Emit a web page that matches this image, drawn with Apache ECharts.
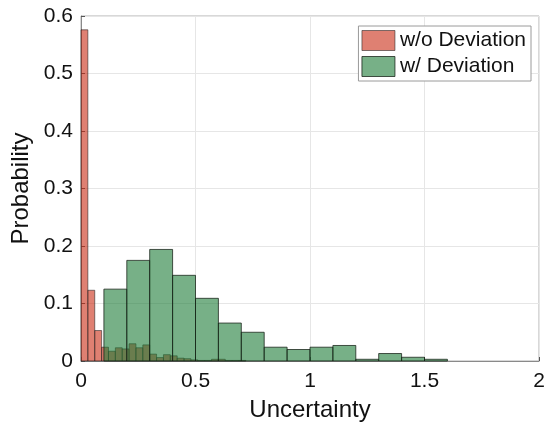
<!DOCTYPE html>
<html>
<head>
<meta charset="utf-8">
<script src="https://cdn.jsdelivr.net/npm/echarts@6/dist/echarts.min.js"></script>
<style>
  html, body { margin: 0; padding: 0; background: #fff; }
  #chart { width: 548px; height: 430px; }
</style>
</head>
<body>
<div id="chart"></div>
<script>
// Histogram of uncertainty, normalised to probability
const seriesNames = ['w/o Deviation', 'w/ Deviation'];

// w/o Deviation: bins of width 0.03 starting at 0
const noDevStart = 0;
const noDevWidth = 0.03;
const noDevProb = [0.576, 0.123, 0.053, 0.024, 0.017, 0.023, 0.021, 0.030,
                   0.023, 0.028, 0.012, 0.006, 0.011, 0.009, 0.005, 0.004,
                   0.002, 0.001, 0.001, 0.003, 0.003, 0.001, 0.001, 0.001];

// w/ Deviation: bins of width 0.1 starting at 0.1
const devStart = 0.1;
const devWidth = 0.1;
const devProb = [0.125, 0.175, 0.194, 0.149, 0.109, 0.066, 0.050, 0.024,
                 0.020, 0.024, 0.027, 0.003, 0.013, 0.0065, 0.003];

const xTicks = [0, 0.5, 1, 1.5, 2];
const yTicks = [0, 0.1, 0.2, 0.3, 0.4, 0.5, 0.6];

function toBins(start, width, probs) {
  return probs.map((p, i) => [start + i * width, start + (i + 1) * width, p]);
}

const colors = {
  red:   { fill: 'rgba(202,43,20,0.6)',  stroke: 'rgba(30,30,30,0.55)' },
  green: { fill: 'rgba(28,123,55,0.6)',  stroke: 'rgba(20,30,20,0.75)' }
};

function histItem(style) {
  return function (params, api) {
    const p0 = api.coord([api.value(0), api.value(2)]);
    const p1 = api.coord([api.value(1), 0]);
    return {
      type: 'rect',
      shape: { x: p0[0], y: p0[1], width: p1[0] - p0[0], height: p1[1] - p0[1] },
      style: { fill: style.fill, stroke: style.stroke, lineWidth: 1 }
    };
  };
}

const font = "'Liberation Sans', Arial, Helvetica, sans-serif";
const fmt = v => String(+v.toFixed(2));

const chart = echarts.init(document.getElementById('chart'), null, { renderer: 'canvas' });
chart.setOption({
  animation: false,
  backgroundColor: '#fff',
  grid: {
    left: 81, right: 9, top: 16, bottom: 69,
    outerBoundsMode: 'none',
    containLabel: false,
    show: true, borderColor: '#b0b0b0', borderWidth: 1, backgroundColor: 'transparent'
  },
  legend: {
    right: 17, top: 26,
    orient: 'vertical',
    backgroundColor: '#fff',
    borderColor: '#9a9a9a', borderWidth: 1,
    padding: [4, 5, 4, 3],
    itemWidth: 33, itemHeight: 20, itemGap: 5,
    textStyle: { fontFamily: font, fontSize: 21, color: '#111', padding: [0, 0, 0, 0] },
    data: [
      { name: seriesNames[0], icon: 'rect',
        itemStyle: { color: colors.red.fill, borderColor: colors.red.stroke, borderWidth: 1 } },
      { name: seriesNames[1], icon: 'rect',
        itemStyle: { color: colors.green.fill, borderColor: colors.green.stroke, borderWidth: 1 } }
    ]
  },
  xAxis: {
    type: 'value',
    min: xTicks[0], max: xTicks[xTicks.length - 1], interval: 0.5,
    name: 'Uncertainty', nameLocation: 'middle', nameGap: 37,
    nameTextStyle: { fontFamily: font, fontSize: 24, color: '#111' },
    axisLine: { show: true, onZero: false, lineStyle: { color: '#8a8a8a', width: 1 } },
    axisTick: { show: true, inside: true, length: 4, lineStyle: { color: '#555' } },
    axisLabel: { fontFamily: font, fontSize: 21, color: '#111', margin: 10, formatter: fmt },
    splitLine: { show: true, lineStyle: { color: '#e6e6e6', width: 1 } }
  },
  yAxis: {
    type: 'value',
    min: yTicks[0], max: yTicks[yTicks.length - 1], interval: 0.1,
    name: 'Probability', nameLocation: 'middle', nameGap: 40, nameRotate: 90,
    nameTextStyle: { fontFamily: font, fontSize: 24, color: '#111' },
    axisLine: { show: true, lineStyle: { color: '#8a8a8a', width: 1 } },
    axisTick: { show: true, inside: true, length: 4, lineStyle: { color: '#555' } },
    axisLabel: { fontFamily: font, fontSize: 21, color: '#111', margin: 8, formatter: fmt },
    splitLine: { show: true, lineStyle: { color: '#e6e6e6', width: 1 } }
  },
  series: [
    {
      name: seriesNames[0], type: 'custom', z: 2,
      itemStyle: { color: colors.red.fill },
      renderItem: histItem(colors.red),
      encode: { x: [0, 1], y: 2 },
      data: toBins(noDevStart, noDevWidth, noDevProb)
    },
    {
      name: seriesNames[1], type: 'custom', z: 3,
      itemStyle: { color: colors.green.fill },
      renderItem: histItem(colors.green),
      encode: { x: [0, 1], y: 2 },
      data: toBins(devStart, devWidth, devProb)
    }
  ]
});
</script>
</body>
</html>
